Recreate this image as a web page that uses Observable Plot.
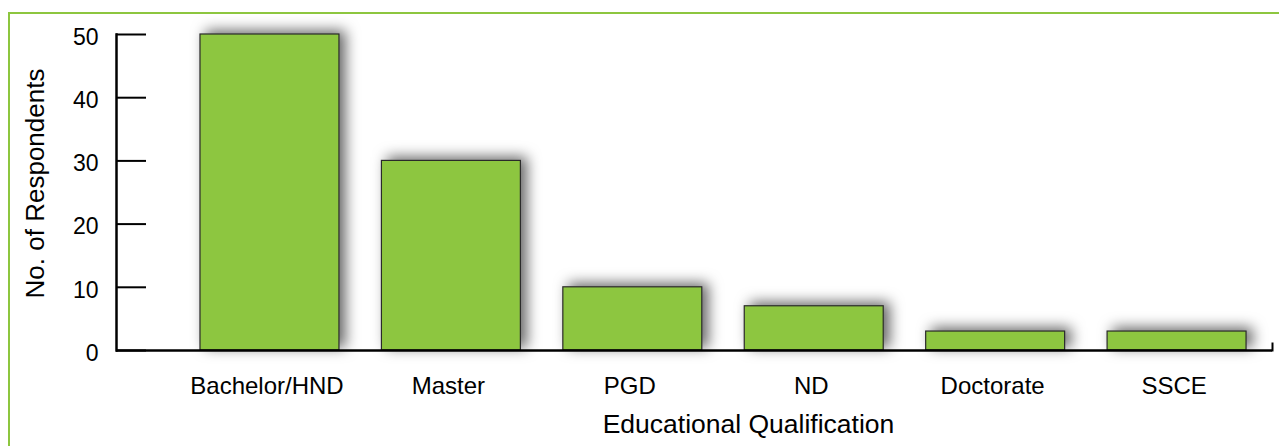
<!DOCTYPE html>
<html>
<head>
<meta charset="utf-8">
<script src="https://cdn.jsdelivr.net/npm/d3@7"></script>
<script src="https://cdn.jsdelivr.net/npm/@observablehq/plot@0.6"></script>
<style>
  html, body { margin: 0; padding: 0; background: #fff; overflow: hidden; }
  #border { position: absolute; left: 8px; top: 12px; width: 3000px; height: 3000px;
            border-left: 2px solid #8dc63f; border-top: 2px solid #8dc63f; }
  #chart { position: absolute; left: 0; top: 0; }
</style>
</head>
<body>
<div id="border"></div>
<div id="chart"></div>
<script>
const categories = ["Bachelor/HND", "Master", "PGD", "ND", "Doctorate", "SSCE"];
const respondents = [50, 30, 10, 7, 3, 3];
const yTicks = [0, 10, 20, 30, 40, 50];
const xLabel = "Educational Qualification";
const yLabel = "No. of Respondents";

const data = categories.map((c, i) => ({category: c, value: respondents[i]}));
const font = "'Liberation Sans', Arial, Helvetica, sans-serif";

const chart = Plot.plot({
  width: 1279,
  height: 446,
  marginLeft: 116,
  marginRight: 7,
  marginTop: 34,
  marginBottom: 96,
  style: {fontFamily: font, background: "transparent", color: "#000"},
  x: {domain: categories, paddingInner: 0.234, paddingOuter: 0.303, align: 0.764, round: false, axis: null},
  y: {domain: [0, 50], axis: null},
  marks: [
    Plot.barY(data, {x: "category", y: "value", fill: "#8dc63f", stroke: "#2a2a2a", strokeWidth: 1.2}),
    Plot.ruleY([0], {stroke: "#000", strokeWidth: 2.5}),
    Plot.frame({anchor: "left", stroke: "#000", strokeWidth: 2.5}),
    Plot.frame({anchor: "right", stroke: "#000", strokeWidth: 2, insetTop: 309}),
    Plot.axisY({ticks: yTicks, tickSize: -30, tickFormat: () => "", label: null, strokeWidth: 2, stroke: "#000"}),
    Plot.text(yTicks, {y: d => d, text: d => String(d), frameAnchor: "left", dx: -18, dy: 3,
      textAnchor: "end", lineAnchor: "middle", fontSize: 23, fill: "#000"}),
    Plot.text(categories, {x: d => d, text: d => d, frameAnchor: "bottom", dx: -3, dy: 35.5,
      lineAnchor: "middle", fontSize: 24, fill: "#000"}),
    Plot.text([xLabel], {text: d => d, frameAnchor: "bottom", dx: 54, dy: 74,
      lineAnchor: "middle", fontSize: 26.5, fill: "#000"}),
    Plot.text([yLabel], {text: d => d, frameAnchor: "left", rotate: -90, dx: -81, dy: -9,
      textAnchor: "middle", lineAnchor: "middle", fontSize: 26, fill: "#000"})
  ]
});

// drop shadow for bars
const svg = d3.select(chart);
const defs = svg.insert("defs", ":first-child");
const f = defs.append("filter").attr("id", "barShadow")
  .attr("x", "-30%").attr("y", "-30%").attr("width", "170%").attr("height", "170%");
f.append("feDropShadow").attr("dx", 6).attr("dy", -3).attr("stdDeviation", 7)
  .attr("flood-color", "#000").attr("flood-opacity", 0.6);
svg.select("g[aria-label='bar']").attr("filter", "url(#barShadow)");

document.getElementById("chart").appendChild(chart);
</script>
</body>
</html>
